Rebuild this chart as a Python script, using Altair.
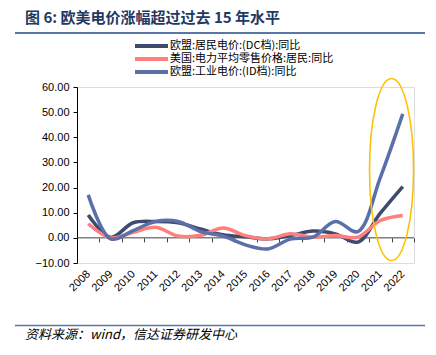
import altair as alt
import pandas as pd

years = list(range(2008, 2023))
series_names = ["欧盟:居民电价:(DC档):同比", "美国:电力平均零售价格:居民:同比", "欧盟:工业电价:(ID档):同比"]
dc = [9.1, 0.2, 6.0, 6.5, 6.0, 3.5, 1.2, 0.4, -0.4, 0.9, 2.7, 1.6, -1.7, 9.8, 20.4]
us = [5.6, 0.0, 2.2, 4.2, 0.7, 1.0, 3.9, 0.9, -0.4, 1.6, 0.3, 0.9, 0.3, 6.9, 8.9]
idv = [17.1, -0.4, 2.9, 6.5, 6.5, 2.5, 0.7, -2.8, -4.4, -0.5, 0.3, 6.5, 2.5, 24.0, 49.3]
colors = ["#3F4A6E", "#FF7F7F", "#5B6FA8"]
y_ticks = [-10, 0, 10, 20, 30, 40, 50, 60]
boundaries = [y + 0.5 for y in range(2007, 2023)]
highlight_x = [2021.5]
highlight_y = [27.2]
title_text = "图 6:  欧美电价涨幅超过过去 15 年水平"
source_text = "资料来源：wind，信达证券研发中心"

rows = []
for name, vals in zip(series_names, [dc, us, idv]):
    for yr, v in zip(years, vals):
        rows.append({"year": yr, "value": v, "series": name})
df = pd.DataFrame(rows)

W, H = 337, 176
xscale = alt.Scale(domain=[2007.5, 2022.5], nice=False, zero=False)
yscale = alt.Scale(domain=[-10, 60], nice=False, zero=False)
FONT = "Liberation Sans"
CJK = "Noto Sans CJK SC"

y_axis = alt.Axis(values=y_ticks, format=".2f", grid=False, domainColor="#000000",
                  tickColor="#000000", tickSize=4, labelFontSize=11, labelFont=FONT,
                  labelColor="#000000", labelPadding=4, title=None)

lines = alt.Chart(df).mark_line(interpolate="catmull-rom", strokeWidth=3.5).encode(
    x=alt.X("year:Q", scale=xscale, title=None,
            axis=alt.Axis(orient="bottom", values=years, format="d", labelAngle=-45,
                          labelAlign="right", labelBaseline="middle", ticks=False,
                          domain=False, grid=False, labelPadding=9, labelFontSize=11,
                          labelFont=FONT, labelColor="#000000", labelOverlap=False)),
    y=alt.Y("value:Q", scale=yscale, title=None, axis=y_axis),
    color=alt.Color("series:N", scale=alt.Scale(domain=series_names, range=colors),
                    sort=series_names, legend=None),
)

zero_df = pd.DataFrame({"x0": [2007.5], "x1": [2022.5], "value": [0]})
zero_line = alt.Chart(zero_df).mark_rule(color="#404040", strokeWidth=1).encode(
    x=alt.X("x0:Q", scale=xscale, title=None,
            axis=alt.Axis(orient="bottom", values=boundaries, labels=False, domain=False,
                          ticks=True, tickSize=4, tickColor="#404040", grid=False,
                          offset=-25.14)),
    x2="x1:Q",
    y=alt.Y("value:Q", scale=yscale, title=None, axis=y_axis),
)

ell_path = ("M0,-1 C0.1337,-1 0.242,-0.5523 0.242,0 C0.242,0.5523 0.1337,1 0,1 "
            "C-0.1337,1 -0.242,0.5523 -0.242,0 C-0.242,-0.5523 -0.1337,-1 0,-1 Z")
ell_df = pd.DataFrame({"x": highlight_x, "value": highlight_y})
ellipse = alt.Chart(ell_df).mark_point(shape=ell_path, size=33124, filled=False,
                                       stroke="#FFC000", strokeWidth=1.6, opacity=1).encode(
    x=alt.X("x:Q", scale=xscale, axis=None),
    y=alt.Y("value:Q", scale=yscale, title=None, axis=y_axis),
)

# manual legend (line swatch + label per series)
legend_layers = []
for i, (name, col) in enumerate(zip(series_names, colors)):
    yy = -41 + 13 * i
    legend_layers.append(
        alt.Chart(pd.DataFrame({"a": [0]})).mark_rule(color=col, strokeWidth=4).encode(
            x=alt.value(58), x2=alt.value(91), y=alt.value(yy)))
    legend_layers.append(
        alt.Chart(pd.DataFrame({"t": [name]})).mark_text(
            align="left", baseline="middle", font=CJK, fontSize=11, color="#000000"
        ).encode(x=alt.value(93), y=alt.value(yy), text="t:N"))

title = alt.Chart(pd.DataFrame({"t": [title_text]})).mark_text(
    align="left", baseline="middle", font=CJK, fontSize=15, fontWeight="bold", color="#1F3864"
).encode(x=alt.value(-52), y=alt.value(-69), text="t:N")

top_rule = alt.Chart(pd.DataFrame({"a": [0]})).mark_rule(color="#5876A8", strokeWidth=2).encode(
    x=alt.value(-62), x2=alt.value(348), y=alt.value(-54))
bottom_rule = alt.Chart(pd.DataFrame({"a": [0]})).mark_rule(color="#5876A8", strokeWidth=1.5).encode(
    x=alt.value(-62), x2=alt.value(348), y=alt.value(238.5))

source = alt.Chart(pd.DataFrame({"t": [source_text]})).mark_text(
    align="left", baseline="middle", font=CJK, fontSize=13, fontStyle="italic", color="#000000"
).encode(x=alt.value(-52), y=alt.value(248), text="t:N")

chart = alt.layer(zero_line, lines, ellipse, *legend_layers, title, top_rule, bottom_rule,
                  source).resolve_axis(x="independent").properties(
    width=W, height=H,
    autosize=alt.AutoSizeParams(type="none"),
    padding={"left": 69, "top": 79, "right": 14, "bottom": 84},
).configure_view(stroke=None).configure(background="#ffffff")

chart.save("out.html", embed_options={"renderer": "svg", "actions": False})
